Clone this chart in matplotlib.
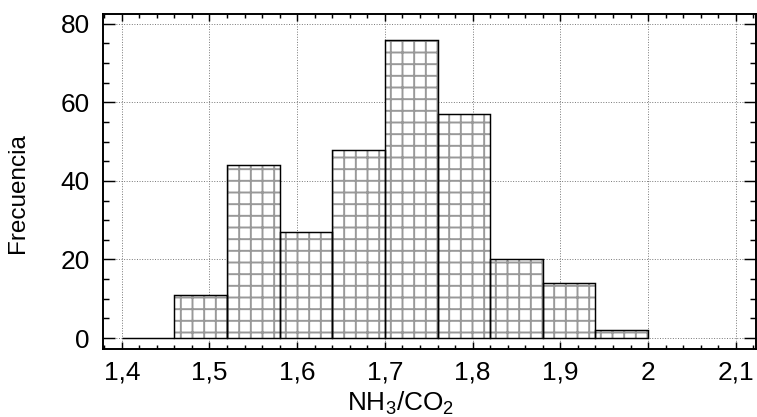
import numpy as np
import matplotlib
matplotlib.use("Agg")
from matplotlib import pyplot as plt
from matplotlib.ticker import MultipleLocator, FixedLocator

plt.rcParams['font.family'] = ['Liberation Sans', 'DejaVu Sans']
plt.rcParams['mathtext.default'] = 'regular'
plt.rcParams['hatch.linewidth'] = 2.0

# histogram bins (left edges) and counts
bin_left = [1.40, 1.46, 1.52, 1.58, 1.64, 1.70, 1.76, 1.82, 1.88, 1.94]
bin_width = 0.06
counts = [0, 11, 44, 27, 48, 76, 57, 20, 14, 2]

xticks = [1.4, 1.5, 1.6, 1.7, 1.8, 1.9, 2.0, 2.1]
xtick_labels = ['1,4', '1,5', '1,6', '1,7', '1,8', '1,9', '2', '2,1']
yticks = [0, 20, 40, 60, 80]

dpi = 70
fig = plt.figure(figsize=(757/dpi, 417/dpi), dpi=dpi)
ax = fig.add_axes([0.1365, 0.163, 0.862, 0.8034])

# hatch layer (grey grid) then black outline
ax.bar(bin_left, counts, width=bin_width, align='edge', facecolor='white',
       edgecolor='#999999', linewidth=0, hatch='+', zorder=2)
ax.bar(bin_left, counts, width=bin_width, align='edge', facecolor='none',
       edgecolor='black', linewidth=1.5, zorder=3)

ax.set_xlim(1.379, 2.1229)
ax.set_ylim(-2.8, 82.5)

ax.xaxis.set_major_locator(FixedLocator(xticks))
ax.set_xticklabels(xtick_labels)
ax.xaxis.set_minor_locator(MultipleLocator(0.02))
ax.yaxis.set_major_locator(FixedLocator(yticks))
ax.yaxis.set_minor_locator(MultipleLocator(5))

ax.grid(True, which='major', linestyle=':', color='#777777', linewidth=1.0)
ax.set_axisbelow(True)

ax.tick_params(axis='both', which='both', direction='in', top=True, right=True,
               labelsize=27, width=1.5)
ax.tick_params(axis='y', which='major', length=12, pad=14)
ax.tick_params(axis='y', which='minor', length=6)
ax.tick_params(axis='x', which='major', length=7, pad=12)
ax.tick_params(axis='x', which='minor', length=4)

for s in ax.spines.values():
    s.set_linewidth(2)

ax.set_ylabel('Frecuencia', fontsize=25, va='center')
ax.yaxis.set_label_coords(-0.1307, 0.4657)
ax.set_xlabel(r'NH$_3$/CO$_2$', fontsize=27, va='baseline')
ax.xaxis.set_label_coords(0.456, -0.185)

fig.savefig('out.png', dpi=dpi)
